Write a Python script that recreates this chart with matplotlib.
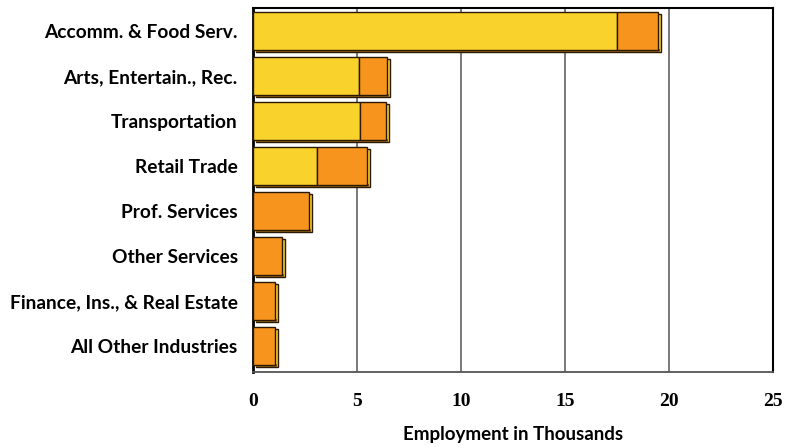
import numpy as np
import matplotlib.pyplot as plt
from matplotlib.patches import Rectangle

# Data (thousands of jobs)
industries = ['Accomm. & Food Serv.', 'Arts, Entertain., Rec.', 'Transportation',
              'Retail Trade', 'Prof. Services', 'Other Services',
              'Finance, Ins., & Real Estate', 'All Other Industries']
part_a = [17.5, 5.1, 5.15, 3.1, 0.0, 0.0, 0.0, 0.0]
part_b = [2.0, 1.35, 1.25, 2.4, 2.7, 1.4, 1.05, 1.05]
x_ticks = [0, 5, 10, 15, 20, 25]

yellow = '#F9D22B'
orange = '#F7941D'
edge = '#2a1a05'

fig = plt.figure(figsize=(7.87, 4.47), dpi=100)
ax = fig.add_axes([0.3215, 0.168, 0.6605, 0.814])

y = np.arange(len(industries))
h = 0.84
dx, dy = 0.14, 0.04  # depth of the fake 3d face

ax.set_xlim(0, 25)
ax.set_ylim(7.58, -0.51)

for gx in x_ticks[1:]:
    ax.axvline(gx, color='#555555', lw=1.1, zorder=0)

totals = np.array(part_a) + np.array(part_b)
for i in range(len(industries)):
    # side / bottom face drawn behind the front face
    ax.add_patch(Rectangle((dx, y[i] - h / 2 + dy), totals[i], h, facecolor=yellow,
                           edgecolor=edge, lw=1.0, zorder=2))
    ax.add_patch(Rectangle((dx, y[i] + h / 2 - 0.02), totals[i] - 0.05, dy + 0.02,
                           facecolor='#8a5a10', edgecolor='none', zorder=2.5))

ax.barh(y, part_a, height=h, color=yellow, edgecolor=edge, lw=1.0, zorder=3)
ax.barh(y, part_b, left=part_a, height=h, color=orange, edgecolor=edge, lw=1.0, zorder=3)

ax.set_yticks(y)
ax.set_yticklabels(industries, fontsize=13.8, fontweight='bold', family='Lato')
ax.set_xticks(x_ticks)
ax.set_xticklabels([str(t) for t in x_ticks], fontsize=14, fontweight='bold',
                   family='Liberation Serif')
ax.tick_params(axis='both', length=0)
ax.tick_params(axis='x', pad=15)
ax.tick_params(axis='y', pad=11)
ax.set_xlabel('Employment in Thousands', fontsize=13.5, fontweight='bold',
              family='Lato', labelpad=12)

for side in ['top', 'right']:
    ax.spines[side].set_color('black')
    ax.spines[side].set_linewidth(1.5)
ax.spines['left'].set_linewidth(2)
ax.spines['bottom'].set_color('#555555')
ax.spines['bottom'].set_linewidth(1.3)

fig.savefig('out.png', dpi=100)
